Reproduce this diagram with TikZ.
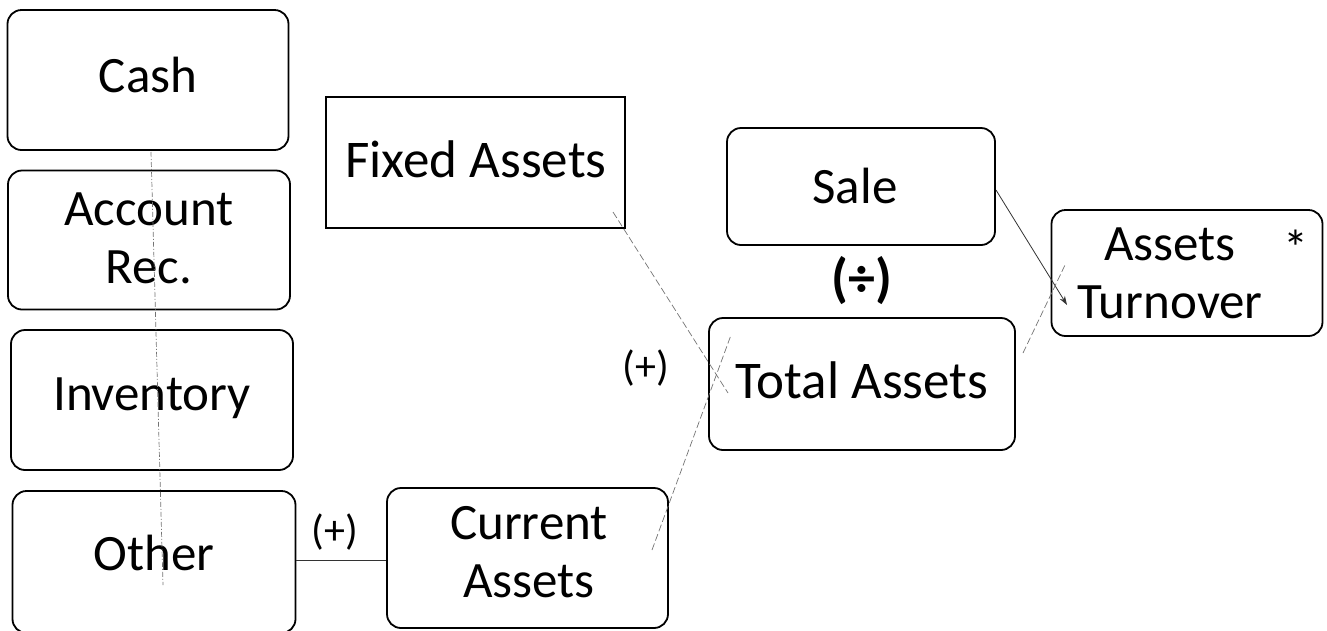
\documentclass[tikz,border=0pt]{standalone}
\usepackage{fontspec}
\setmainfont{Carlito}
\usetikzlibrary{arrows.meta}
\begin{document}
\begin{tikzpicture}[x=1pt,y=-1pt,
  box/.style={draw, line width=1.8pt, rounded corners=14pt, align=center, inner sep=0pt},
  sqbox/.style={draw, line width=1.8pt, align=center, inner sep=0pt},
  txt/.style={align=center, inner sep=0pt, font=\fontsize{51}{58}\selectfont},
  bigtxt/.style={align=center, inner sep=0pt, font=\fontsize{53}{60}\selectfont},
  conn/.style={line width=0.7pt, black!55, dash pattern=on 7pt off 3pt},
  solidconn/.style={line width=0.8pt, black!80},
  oplabel/.style={font=\fontsize{42}{46}\selectfont, inner sep=0pt},
  divlabel/.style={font=\fontsize{54}{60}\selectfont\bfseries, inner sep=0pt}]
\useasboundingbox (0,0) rectangle (1327,630);
% boxes
\node[box, minimum width=281pt, minimum height=140pt] (cash) at (148,80) {};
\node[txt] (cashT) at (148,75) {Cash};
\node[box, minimum width=282pt, minimum height=139pt] (acc) at (149,240) {};
\node[txt] (accT) at (149,238) {Account\\Rec.};
\node[box, minimum width=282pt, minimum height=140pt] (inv) at (152,400) {};
\node[txt] (invT) at (152,398) {Inventory};
\node[box, minimum width=283pt, minimum height=142pt] (oth) at (154,562) {};
\node[txt] (othT) at (154,553) {Other};
\node[sqbox, minimum width=299pt, minimum height=131pt] (fix) at (475.5,162.5) {};
\node[bigtxt] (fixT) at (476,159) {Fixed Assets};
\node[box, minimum width=281pt, minimum height=140pt] (cur) at (527.5,558) {};
\node[txt] (curT) at (529,552) {Current\\Assets};
\node[box, minimum width=268pt, minimum height=117pt] (sale) at (861,186.5) {};
\node[txt] (saleT) at (855,186) {Sale};
\node[box, minimum width=306pt, minimum height=132pt] (tot) at (862,384) {};
\node[bigtxt] (totT) at (862,380) {Total Assets};
\node[box, minimum width=271pt, minimum height=126pt] (turn) at (1187,273) {};
\node[txt] (turnT) at (1170,273) {Assets\\Turnover};
\node[font=\fontsize{50}{54}\selectfont, inner sep=0pt] (star) at (1296,248) {*};
% operator labels
\node[oplabel] (plus1) at (646,368) {(+)};
\node[oplabel] (plus2) at (335,532) {(+)};
\node[divlabel] (divl) at (862,281) {(÷)};
% connector end points
\coordinate (v1) at (151,152);
\coordinate (v2) at (163,585);
\coordinate (f1) at (613,212);
\coordinate (f2) at (728,393);
\coordinate (c1) at (652,550);
\coordinate (c2) at (731,335);
\coordinate (s1) at (996,190);
\coordinate (s2) at (1067,305);
\coordinate (t1) at (1023,353);
\coordinate (t2) at (1065,265);
% connectors
\draw[conn, dash pattern=on 5pt off 2pt on 1pt off 2pt] (v1) -- (v2);
\draw[conn] (f1) -- (f2);
\draw[conn] (c1) -- (c2);
\draw[solidconn, -{Stealth[length=9pt,width=6pt]}] (s1) -- (s2);
\draw[conn] (t1) -- (t2);
\draw[solidconn] (oth.east |- 0,560) -- (cur.west |- 0,560);
\end{tikzpicture}
\end{document}
